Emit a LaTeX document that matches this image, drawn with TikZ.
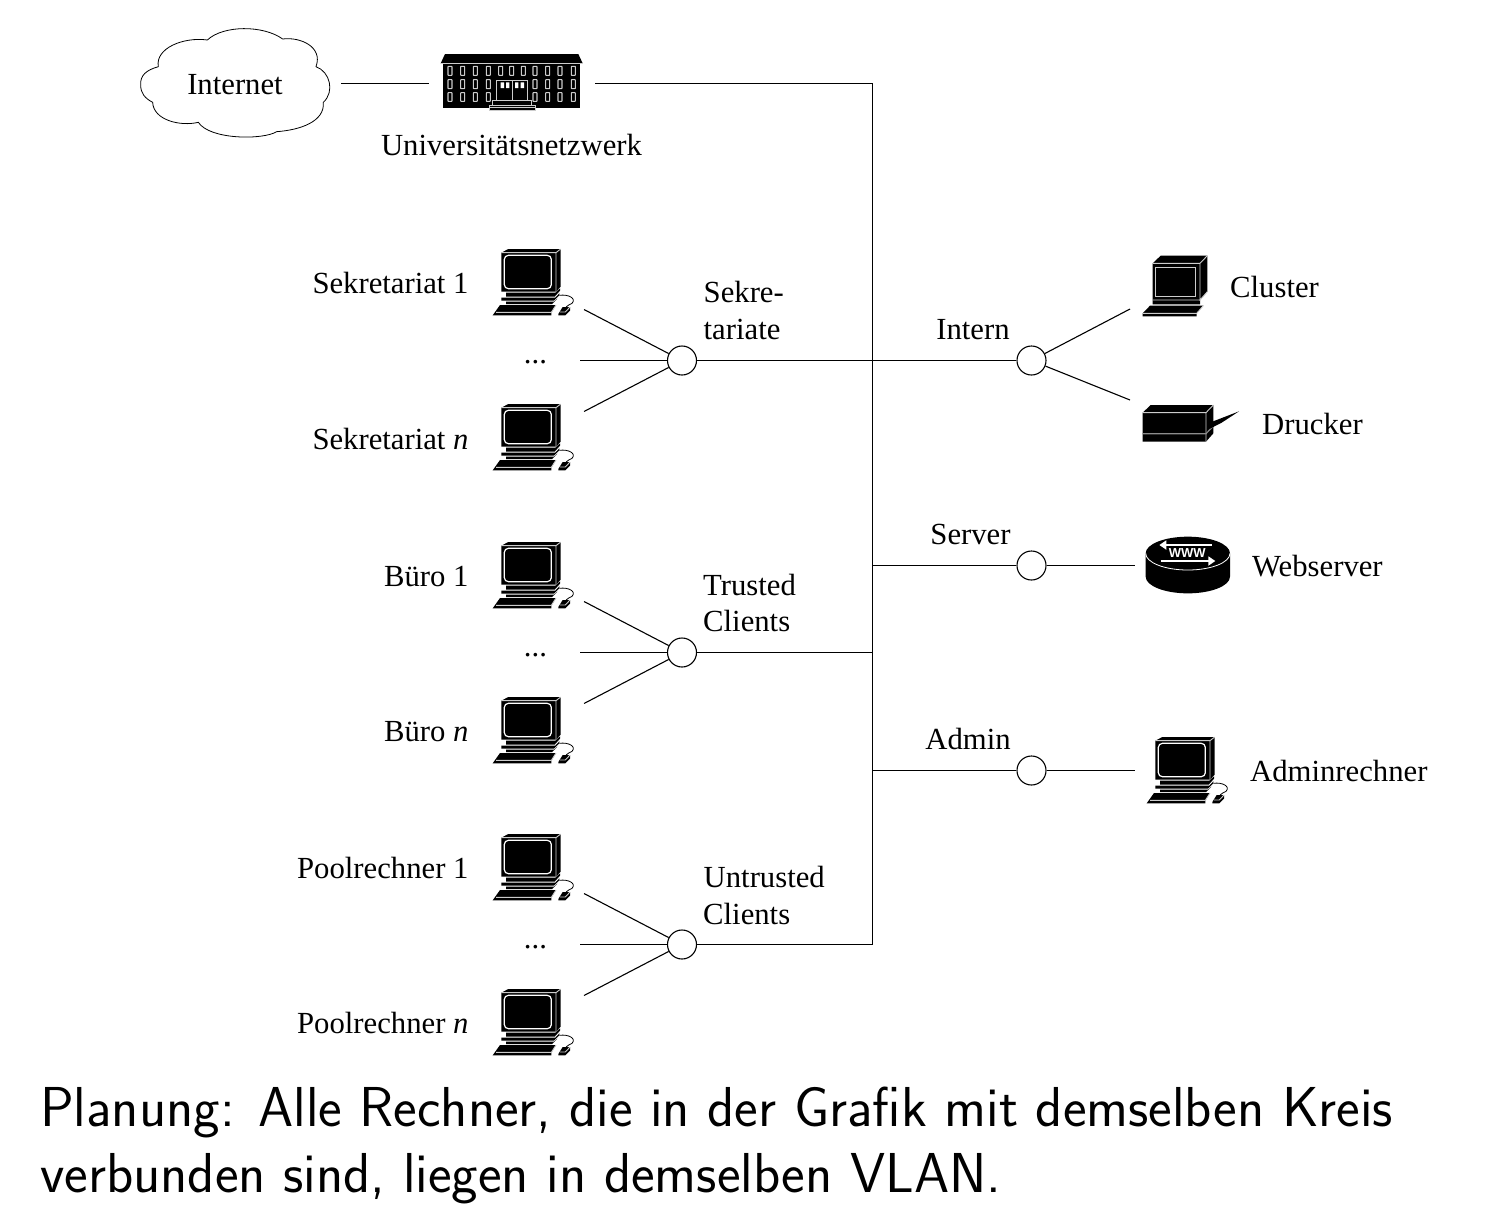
\documentclass[tikz,border=0pt]{standalone}
\usepackage{fontspec}
\setmainfont{Liberation Serif}
\newfontfamily\wwwfont{Liberation Sans}
\usetikzlibrary{arrows.meta,calc}
\tikzset{
  x=1pt,y=-1pt,
  lbl/.style={font=\fontsize{30.7}{36.5}\selectfont,inner sep=0pt,align=left},
  lblr/.style={lbl,anchor=base east},
  lbll/.style={lbl,anchor=base west},
  lblc/.style={lbl,anchor=base},
  vlan/.style={circle,draw,line width=1.1pt,minimum size=29pt,inner sep=0pt},
  wire/.style={line width=1.1pt},
  zoomed/.style={x=0.33333pt,y=-0.33333pt},
  edgeline/.style={draw=white!80!black,line width=.9pt},
  capt/.style={anchor=base west,inner sep=0pt,font=\sffamily\fontsize{56.3}{66}\selectfont},
  computer/.pic={
    \begin{scope}[zoomed]
      \fill (64,38)--(85,27)--(242,27)--(242,140)--(228,155)--(64,155)--cycle;
      \draw[edgeline] (64,38)--(228,38)--(242,27) (228,38)--(228,155);
      \draw[white,line width=1.2pt,rounded corners=4pt] (73,46) rectangle (214,146);
      \fill (78,158)--(226,158)--(240,145)--(240,152)--(224,170)--(78,170)--cycle;
      \fill (64,173)--(226,173)--(238,160)--(238,166)--(222,182)--(64,182)--cycle;
      \fill (78,185)--(222,185)--(232,176)--(216,192)--(78,192)--cycle;
      \fill (60,195)--(228,195)--(214,218)--(214,226)--(38,226)--cycle;
      \draw[edgeline] (48,217)--(214,217)--(228,195);
      \fill (235,222)--(248,201)--(270,201)--(270,212)--(256,226)--(235,226)--cycle;
      \draw[edgeline] (240,216)--(256,216)--(270,201);
      \draw[line width=.8pt] (238,166) .. controls (265,162) and (290,175) .. (276,190) .. controls (270,195) and (262,195) .. (258,201);
    \end{scope}
  },
  clusterbox/.pic={
    \begin{scope}[zoomed]
      \fill (68,55)--(92,32)--(232,32)--(232,140)--(210,165)--(210,178)--(68,178)--cycle;
      \draw[edgeline] (68,55)--(210,55)--(232,32) (210,55)--(210,165)--(232,140) (68,165)--(210,165);
      \draw[edgeline,line width=1pt] (76,68) rectangle (196,155);
      \fill (38,205)--(60,182)--(220,182)--(200,205)--(200,214)--(38,214)--cycle;
      \draw[edgeline] (38,205)--(200,205)--(220,182);
    \end{scope}
  },
  printerbox/.pic={
    \begin{scope}[zoomed]
      \fill (38,68)--(62,45)--(250,45)--(250,130)--(228,155)--(38,155)--cycle;
      \draw[edgeline] (38,68)--(228,68)--(250,45) (228,68)--(228,155);
      \draw[white!55!black,line width=1.2pt] (38,131)--(228,131)--(250,108);
      \fill (234,100)--(327,64)--(275,98)--(240,116)--cycle;
    \end{scope}
  },
  routerdisk/.pic={
    \begin{scope}[zoomed]
      \fill (47,85) arc[start angle=180,end angle=360,x radius=126.5,y radius=50]
        -- (300,155) arc[start angle=0,end angle=180,x radius=126.5,y radius=50] -- cycle;
      \draw[white,line width=.8pt] (47,85) arc[start angle=180,end angle=0,x radius=126.5,y radius=50];
      \draw[white,line width=2.2pt,-{Triangle[length=7pt,width=9pt]}] (245,60)--(88,60);
      \draw[white,line width=2.2pt,-{Triangle[length=7pt,width=9pt]}] (92,108)--(256,108);
      \node[white,inner sep=0pt,font=\wwwfont\bfseries\fontsize{13}{14}\selectfont] (wwwtext) at (172,85) {WWW};
    \end{scope}
  },
  campus/.pic={
    \begin{scope}[zoomed]
      \fill (945,72)--(1345,72)--(1358,100)--(932,100)--cycle;
      \fill (940,102) rectangle (1350,235);
      \draw[edgeline] (932,100)--(1358,100);
      \foreach \xx in {960,998,1036,1075,1112,1145,1180,1215,1253,1290,1330}
        \draw[edgeline,line width=1.1pt,rounded corners=.5pt] (\xx-6,109) rectangle ++(12,27);
      \foreach \xx in {960,998,1036,1075,1215,1253,1290,1330}{
        \draw[edgeline,line width=1.1pt,rounded corners=.5pt] (\xx-6,149) rectangle ++(12,27);
        \draw[edgeline,line width=1.1pt,rounded corners=.5pt] (\xx-6,188) rectangle ++(12,26);
      }
      \draw[edgeline] (1100,150) rectangle (1193,212) (1147,150)--(1147,212);
      \fill[white] (1112,157) rectangle ++(10,17) (1128,157) rectangle ++(10,17)
                   (1155,157) rectangle ++(10,17) (1172,157) rectangle ++(10,17);
      \draw[edgeline,fill=black] (1088,212) rectangle (1205,225);
      \draw[edgeline,fill=black] (1078,225) rectangle (1215,242);
      \draw[edgeline] (1078,233)--(1215,233);
    \end{scope}
  },
}
\begin{document}
\begin{tikzpicture}
\useasboundingbox (0,0) rectangle (1510,1224);
% cloud
\begin{scope}[shift={(130,15)},zoomed]
  \draw[line width=.8pt] (32,210) .. controls (30,180) and (50,165) .. (85,155)
    .. controls (75,100) and (160,65) .. (232,75)
    .. controls (280,30) and (400,30) .. (458,72)
    .. controls (510,65) and (580,95) .. (558,155)
    .. controls (600,170) and (615,230) .. (580,262)
    .. controls (585,320) and (510,345) .. (440,350)
    .. controls (400,375) and (240,375) .. (205,322)
    .. controls (150,335) and (70,315) .. (68,262)
    .. controls (45,250) and (32,235) .. (32,210) -- cycle;
\end{scope}
% main nodes
\node[lblc,inner sep=0pt] (internet) at (235,94) {Internet};
\coordinate (cloudright) at (341,83.5);
\node[minimum width=166pt,minimum height=60pt,inner sep=0pt] (uni) at (512,83.5) {};
\pic (building) at (130,30) {campus};
\node[lblc] (unilabel) at (511.5,155) {Universitätsnetzwerk};

\node[vlan] (sek) at (682,360.5) {};
\node[vlan] (tru) at (682,652.5) {};
\node[vlan] (unt) at (682,944.5) {};
\node[vlan] (int) at (1031.5,360.5) {};
\node[vlan] (srv) at (1031.5,565.5) {};
\node[vlan] (adm) at (1031.5,770.5) {};

% computers
\foreach \nm/\py in {ca/0,cb/155,cc/293,cd/448,ce/585,cf/740}
  \pic (\nm) at (480,240+\py) {computer};
\pic (admpc) at (1134,728) {computer};
\pic (cluster) at (1130,245) {clusterbox};
\pic (printer) at (1130,390) {printerbox};
\pic (web) at (1130,525) {routerdisk};

% free ends
\foreach \nm/\cy in {a/360.5,b/652.5,c/944.5}{
  \coordinate (\nm top) at (584,\cy-51);
  \coordinate (\nm mid) at (580,\cy);
  \coordinate (\nm bot) at (584,\cy+51);
}
\coordinate (clusterend) at (1130,309);
\coordinate (printerend) at (1130,400);
\coordinate (webend) at (1135,565.5);
\coordinate (admend) at (1135,770.5);
\coordinate (bustop) at (872.5,83.5);
\coordinate (busbot) at (872.5,944.5);
\coordinate (bussrv) at (872.5,565.5);
\coordinate (bustru) at (872.5,652.5);
\coordinate (busadm) at (872.5,770.5);

% connectors
\begin{scope}[wire]
  \draw (cloudright) -- (uni.west);
  \draw (uni.east) -- (bustop) -- (busbot) -- (unt);
  \draw (sek) -- (int);
  \draw (tru) -- (bustru);
  \draw (bussrv) -- (srv);
  \draw (busadm) -- (adm);
  \draw (srv) -- (webend);
  \draw (adm) -- (admend);
  \draw (int) -- (clusterend);
  \draw (int) -- (printerend);
  \draw (atop) -- (sek); \draw (amid) -- (sek); \draw (abot) -- (sek);
  \draw (btop) -- (tru); \draw (bmid) -- (tru); \draw (bbot) -- (tru);
  \draw (ctop) -- (unt); \draw (cmid) -- (unt); \draw (cbot) -- (unt);
\end{scope}

% labels
\node[lblr] (l1) at (468.7,293) {Sekretariat 1};
\node[lblr] (l2) at (468.7,449) {Sekretariat \textit{n}};
\node[lblr] (l3) at (468.7,586) {Büro 1};
\node[lblr] (l4) at (468.7,741) {Büro \textit{n}};
\node[lblr] (l5) at (468.7,878) {Poolrechner 1};
\node[lblr] (l6) at (468.7,1033) {Poolrechner \textit{n}};
\node[lblc] (d1) at (535.5,363) {...};
\node[lblc] (d2) at (535.5,656) {...};
\node[lblc] (d3) at (535.5,948) {...};
\node[lbll] (g1a) at (703.5,302) {Sekre-};
\node[lbll] (g1b) at (703.5,339) {tariate};
\node[lbll] (g2a) at (703,595) {Trusted};
\node[lbll] (g2b) at (703,631) {Clients};
\node[lbll] (g3a) at (703.5,887) {Untrusted};
\node[lbll] (g3b) at (703,924) {Clients};
\node[lblc] (n1) at (973,339) {Intern};
\node[lblc] (n2) at (970.5,544) {Server};
\node[lblc] (n3) at (968,749) {Admin};
\node[lbll] (r1) at (1230,297) {Cluster};
\node[lbll] (r2) at (1262,434) {Drucker};
\node[lbll] (r3) at (1252,576) {Webserver};
\node[lbll] (r4) at (1250,781) {Adminrechner};

\node[capt] (cap1) at (40,1126) {Planung: Alle Rechner, die in der Grafik mit demselben Kreis};
\node[capt] (cap2) at (40,1192) {verbunden sind, liegen in demselben VLAN.};
\end{tikzpicture}
\end{document}
